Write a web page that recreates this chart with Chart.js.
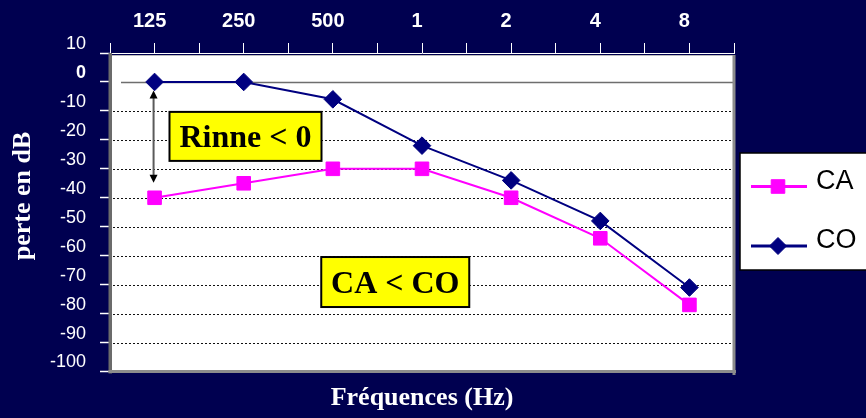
<!DOCTYPE html>
<html>
<head>
<meta charset="utf-8">
<title>Audiogramme</title>
<script src="https://cdn.jsdelivr.net/npm/chart.js@4/dist/chart.umd.min.js"></script>
<style>
  html, body { margin: 0; padding: 0; background: #000050; }
  canvas { display: block; }
</style>
</head>
<body>
<canvas id="audiogram" width="866" height="418"></canvas>
<script>
// Frequencies (Hz then kHz) and hearing loss in dB
const frequencies = ['125', '250', '500', '1', '2', '4', '8'];
const caLoss = [-40, -35, -30, -30, -40, -54, -77];   // conduction aérienne
const coLoss = [0, 0, -6, -22, -34, -48, -71];        // conduction osseuse
const lossTicks = [10, 0, -10, -20, -30, -40, -50, -60, -70, -80, -90, -100];

const NAVY_BG = '#000050';
const SANS = '"Liberation Sans", Arial, sans-serif';
const SERIF = '"Liberation Serif", "Times New Roman", serif';

function drawMarker(ctx, style, x, y, r, color) {
  ctx.fillStyle = color;
  ctx.strokeStyle = color;
  ctx.lineWidth = 1;
  ctx.beginPath();
  if (style === 'rect') {
    const s = r * Math.SQRT1_2;
    ctx.rect(x - s, y - s, 2 * s, 2 * s);
  } else {
    ctx.moveTo(x - r, y);
    ctx.lineTo(x, y - r);
    ctx.lineTo(x + r, y);
    ctx.lineTo(x, y + r);
    ctx.closePath();
  }
  ctx.fill();
  ctx.stroke();
}

function noteBox(ctx, text, cx, cy, w, h) {
  ctx.save();
  ctx.fillStyle = '#ffff00';
  ctx.fillRect(cx - w / 2, cy - h / 2, w, h);
  ctx.strokeStyle = '#000';
  ctx.lineWidth = 2;
  ctx.strokeRect(cx - w / 2, cy - h / 2, w, h);
  ctx.fillStyle = '#000';
  ctx.font = 'bold 32px ' + SERIF;
  ctx.textAlign = 'center';
  ctx.textBaseline = 'middle';
  ctx.fillText(text, cx, cy + 2.5);
  ctx.restore();
}

function arrowHead(ctx, x, tipY, dir) {
  ctx.beginPath();
  ctx.moveTo(x, tipY);
  ctx.lineTo(x - 4, tipY + dir * 8);
  ctx.lineTo(x + 4, tipY + dir * 8);
  ctx.closePath();
  ctx.fill();
}

const audiogramDecor = {
  id: 'audiogramDecor',
  beforeDraw(chart) {
    const { ctx, chartArea: a, width, height } = chart;
    ctx.save();
    ctx.fillStyle = NAVY_BG;
    ctx.fillRect(0, 0, width, height);
    ctx.fillStyle = '#ffffff';
    ctx.fillRect(a.left, a.top + 2, a.right - a.left, a.bottom - a.top - 2);
    ctx.restore();
  },
  beforeDatasetsDraw(chart) {
    const { ctx, chartArea: a } = chart;
    const xs = chart.scales.x, ys = chart.scales.y;
    ctx.save();

    // dotted horizontal grid
    ctx.strokeStyle = '#111';
    ctx.lineWidth = 1;
    ctx.setLineDash([2, 2]);
    ctx.beginPath();
    lossTicks.forEach(v => {
      if (v === 0 || v === ys.max || v === ys.min) return;
      const y = Math.round(ys.getPixelForValue(v)) + 0.5;
      ctx.moveTo(a.left + 3, y);
      ctx.lineTo(a.right, y);
    });
    ctx.stroke();
    ctx.setLineDash([]);

    // solid zero reference line
    const y0 = Math.round(ys.getPixelForValue(0)) + 0.5;
    ctx.strokeStyle = '#6e6e6e';
    ctx.lineWidth = 1.5;
    ctx.beginPath();
    ctx.moveTo(a.left + 11, y0);
    ctx.lineTo(a.right, y0);
    ctx.stroke();

    // plot frame with its shaded edges
    ctx.strokeStyle = '#bdbdbd';
    ctx.lineWidth = 1;
    ctx.beginPath();
    ctx.moveTo(a.left, a.top + 2.5);
    ctx.lineTo(a.right, a.top + 2.5);
    ctx.stroke();
    ctx.fillStyle = '#6b6b6b';
    ctx.fillRect(a.left - 1.5, a.top, 3.5, a.bottom - a.top + 2);
    ctx.fillStyle = '#8c8c8c';
    ctx.fillRect(a.left - 1.5, a.bottom - 1.5, a.right - a.left + 3.5, 3);
    ctx.fillRect(a.right - 1.5, a.top + 2, 3, a.bottom - a.top + 1.5);

    // double arrow between the two first thresholds
    const ax = xs.getPixelForValue(0) - 1;
    const topTip = ys.getPixelForValue(coLoss[0]) + 8.5;
    const botTip = ys.getPixelForValue(caLoss[0]) - 15;
    ctx.strokeStyle = '#5a5a5a';
    ctx.lineWidth = 2;
    ctx.beginPath();
    ctx.moveTo(ax, topTip + 6);
    ctx.lineTo(ax, botTip - 6);
    ctx.stroke();
    ctx.fillStyle = '#000';
    arrowHead(ctx, ax, topTip, 1);
    arrowHead(ctx, ax, botTip, -1);
    ctx.restore();

    noteBox(ctx, 'Rinne < 0', xs.getPixelForValue(1.02), ys.getPixelForValue(-18.8), 152, 49);
    noteBox(ctx, 'CA < CO', xs.getPixelForValue(2.7), ys.getPixelForValue(-69.1), 148, 50);
  },
  afterDraw(chart) {
    const { ctx } = chart;
    ctx.save();

    // legend
    ctx.fillStyle = '#ffffff';
    ctx.fillRect(740, 153, 140, 117);
    ctx.strokeStyle = '#000';
    ctx.lineWidth = 1.5;
    ctx.strokeRect(740, 153, 140, 117);
    const rows = [186.5, 246];
    chart.data.datasets.forEach((ds, i) => {
      const y = rows[i];
      ctx.strokeStyle = ds.borderColor;
      ctx.lineWidth = 3;
      ctx.beginPath();
      ctx.moveTo(751, y);
      ctx.lineTo(807, y);
      ctx.stroke();
      drawMarker(ctx, ds.pointStyle, 778, y, ds.pointStyle === 'rect' ? 9.6 : 8.5, ds.borderColor);
      ctx.fillStyle = '#000';
      ctx.font = '27px ' + SANS;
      ctx.textAlign = 'left';
      ctx.textBaseline = 'middle';
      ctx.fillText(ds.label, 816, y - 5);
    });

    // vertical axis title
    ctx.translate(23, 196);
    ctx.rotate(-Math.PI / 2);
    ctx.fillStyle = '#ffffff';
    ctx.font = 'bold 26px ' + SERIF;
    ctx.textAlign = 'center';
    ctx.textBaseline = 'middle';
    ctx.fillText('perte en dB', 0, 0);
    ctx.restore();
  }
};

const toPoints = values => values.map((v, i) => ({ x: i, y: v }));

new Chart(document.getElementById('audiogram'), {
  type: 'line',
  data: {
    datasets: [
      {
        label: 'CA',
        data: toPoints(caLoss),
        borderColor: '#ff00ff',
        backgroundColor: '#ff00ff',
        borderWidth: 2,
        pointStyle: 'rect',
        pointRadius: 9.6,
        pointBorderWidth: 1,
        order: 1
      },
      {
        label: 'CO',
        data: toPoints(coLoss),
        borderColor: '#000080',
        backgroundColor: '#000080',
        borderWidth: 2,
        pointStyle: 'rectRot',
        pointRadius: 8.8,
        pointBorderWidth: 1,
        order: 0
      }
    ]
  },
  options: {
    responsive: false,
    animation: false,
    devicePixelRatio: 1,
    layout: { padding: { right: 132 } },
    elements: { line: { tension: 0 } },
    plugins: { legend: { display: false }, tooltip: { enabled: false } },
    scales: {
      x: {
        type: 'linear',
        position: 'top',
        min: -0.5,
        max: frequencies.length - 0.5,
        afterBuildTicks: s => {
          const t = [];
          for (let v = -0.5; v <= frequencies.length - 0.5 + 1e-9; v += 0.5) t.push({ value: v });
          s.ticks = t;
        },
        afterFit: s => { s.height = 53; },
        grid: { drawOnChartArea: false, drawTicks: true, tickLength: 10, tickColor: '#ffffff', tickWidth: 1 },
        border: { display: true, color: '#ffffff', width: 1 },
        ticks: {
          autoSkip: false,
          maxRotation: 0,
          color: '#ffffff',
          padding: 10,
          labelOffset: -5,
          font: { family: SANS, size: 20, weight: 'bold' },
          callback: v => (Number.isInteger(v) ? frequencies[v] : '')
        }
      },
      xTitle: {
        type: 'linear',
        position: 'bottom',
        axis: 'x',
        afterFit: s => { s.height = 46.5; },
        ticks: { display: false },
        grid: { display: false },
        border: { display: false },
        title: {
          display: true,
          text: 'Fréquences (Hz)',
          color: '#ffffff',
          font: { family: SERIF, size: 26, weight: 'bold' },
          padding: { top: 0, bottom: 4 }
        }
      },
      y: {
        type: 'linear',
        min: -100,
        max: 10,
        afterBuildTicks: s => { s.ticks = lossTicks.map(v => ({ value: v })); },
        afterFit: s => { s.width = 110; },
        grid: {
          color: 'rgba(0,0,0,0)',
          lineWidth: 1,
          tickLength: 10,
          tickColor: '#ffffff',
          tickWidth: 1.5
        },
        border: { display: false },
        ticks: {
          color: '#ffffff',
          padding: 14,
          labelOffset: -9,
          font: c => ({ family: SANS, size: 18, weight: c.tick && c.tick.value === 0 ? 'bold' : 'normal' }),
          callback: v => String(v)
        }
      }
    }
  },
  plugins: [audiogramDecor]
});
</script>
</body>
</html>
